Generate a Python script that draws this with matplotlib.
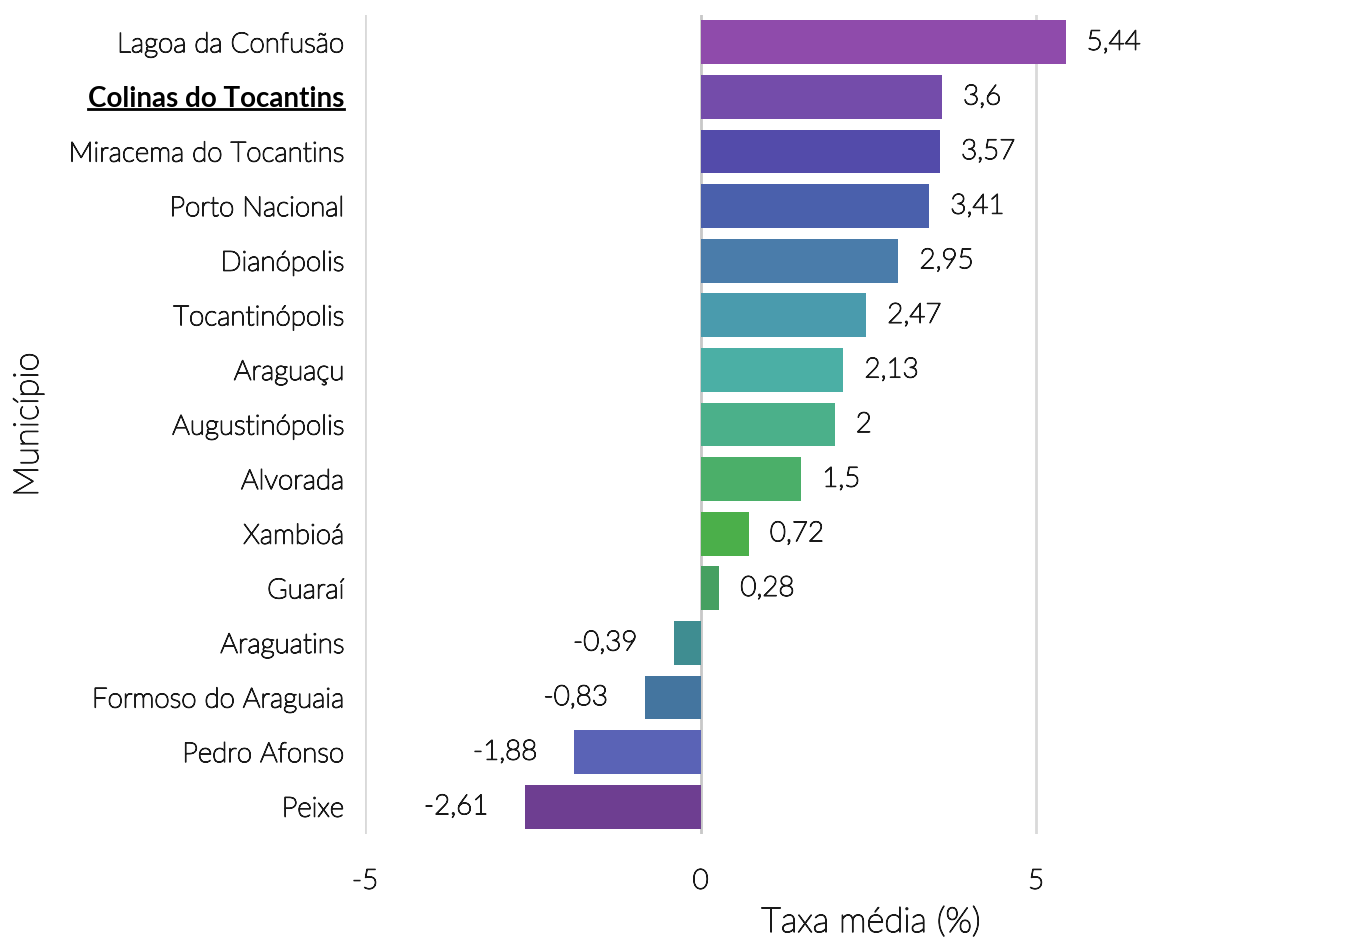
import matplotlib
matplotlib.use("Agg")
import matplotlib.pyplot as plt
from matplotlib.lines import Line2D
import matplotlib.patheffects as pe

municipios = ["Lagoa da Confusão", "Colinas do Tocantins", "Miracema do Tocantins",
              "Porto Nacional", "Dianópolis", "Tocantinópolis", "Araguaçu",
              "Augustinópolis", "Alvorada", "Xambioá", "Guaraí", "Araguatins",
              "Formoso do Araguaia", "Pedro Afonso", "Peixe"]
taxas = [5.44, 3.6, 3.57, 3.41, 2.95, 2.47, 2.13, 2.0, 1.5, 0.72, 0.28,
         -0.39, -0.83, -1.88, -2.61]
rotulos = ["5,44", "3,6", "3,57", "3,41", "2,95", "2,47", "2,13", "2", "1,5",
           "0,72", "0,28", "-0,39", "-0,83", "-1,88", "-2,61"]
cores = ["#8F4BAB", "#744CAA", "#534BAA", "#4A60AC", "#4A7CAA", "#4A9BAD",
         "#4BAFA5", "#4BB08A", "#4BAF69", "#4BAF4A", "#46A061", "#3F8D91",
         "#44759F", "#5A63B6", "#6E3E91"]
destaque = "Colinas do Tocantins"
xticks = [-5, 0, 5]

plt.rcParams['font.family'] = ['Lato', 'DejaVu Sans']
txt = "#1a1a1a"
W = "light"
thick = [pe.withStroke(linewidth=0.9, foreground=txt)]

fig = plt.figure(figsize=(13.63, 9.42), dpi=100)
ax = fig.add_axes([365/1363, 1-834/942, 973/1363, (834-15)/942])

ypos = list(range(len(municipios)))
ax.barh(ypos, taxas, height=0.8, color=cores, zorder=2)
ax.set_ylim(len(municipios)-0.5, -0.5)
ax.set_xlim(-5, 9.5)

for x in xticks:
    ax.axvline(x, color="#d9d9d9" if x != 0 else "#c8c8c8", lw=2, zorder=1)

for y, v, lab in zip(ypos, taxas, rotulos):
    if v >= 0:
        ax.annotate(lab, (v, y), xytext=(21, 0), textcoords="offset pixels",
                    ha="left", va="center", fontsize=20, fontweight=W, color=txt,
                    path_effects=thick)
    else:
        ax.annotate(lab, (v, y), xytext=(-37, 0), textcoords="offset pixels",
                    ha="right", va="center", fontsize=20, fontweight=W, color=txt,
                    path_effects=thick)

ax.set_xticks(xticks)
ax.set_xticklabels([str(x) for x in xticks])
ax.set_yticks(ypos)
ax.set_yticklabels(municipios)
ax.tick_params(axis="both", length=0, labelsize=20, colors=txt)
ax.tick_params(axis="x", pad=25)
ax.tick_params(axis="y", pad=15)
for lbl in ax.get_xticklabels() + ax.get_yticklabels():
    lbl.set_fontweight(W)
    lbl.set_color(txt)
    lbl.set_path_effects(thick)
for lbl in ax.get_yticklabels():
    if lbl.get_text() == destaque:
        lbl.set_fontweight("bold")
        lbl.set_color("black")
        lbl.set_path_effects([])

for s in ax.spines.values():
    s.set_visible(False)

ax.set_xlabel("Taxa média (%)", fontsize=25, fontweight=W, color=txt, path_effects=thick)
ax.xaxis.set_label_coords(0.52, -0.088)
ax.set_ylabel("Município", fontsize=25, fontweight=W, color=txt, path_effects=thick)
ax.yaxis.set_label_coords(-0.33, 0.5)

fig.canvas.draw()
r = fig.canvas.get_renderer()
for lbl in ax.get_yticklabels():
    if lbl.get_text() == destaque:
        bb = lbl.get_window_extent(r)
        yline = bb.y0 + 3
        fig.add_artist(Line2D([bb.x0/fig.bbox.width, bb.x1/fig.bbox.width],
                              [yline/fig.bbox.height]*2, color="black", lw=2,
                              transform=fig.transFigure))

fig.savefig("out.png", dpi=100)
